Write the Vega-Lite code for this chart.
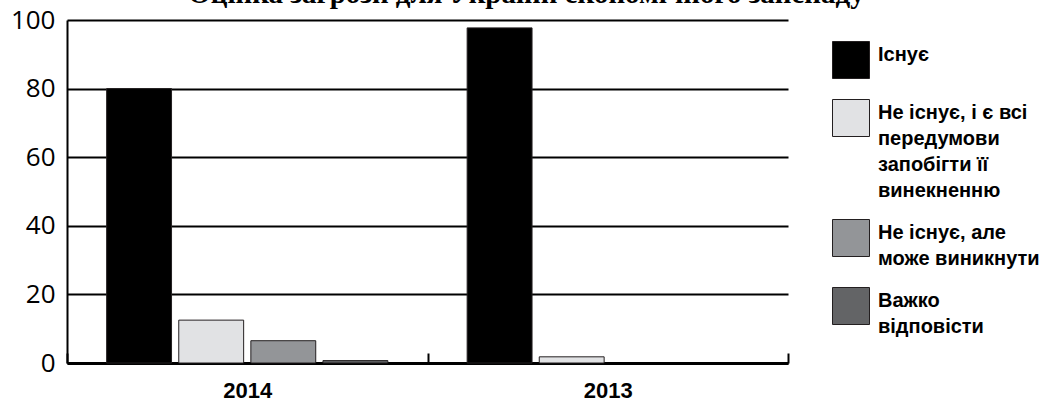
{
  "$schema": "https://vega.github.io/schema/vega-lite/v6.json",
  "autosize": "none",
  "width": 721,
  "height": 343,
  "padding": {"left": 67, "top": 20, "right": 251, "bottom": 37},
  "background": "white",
  "title": {
    "text": "Оцінка загрози для України економічного занепаду",
    "font": "Liberation Serif",
    "fontWeight": "bold",
    "fontSize": 29,
    "color": "#000000",
    "anchor": "middle",
    "frame": "group",
    "dx": 99,
    "baseline": "alphabetic",
    "offset": 0,
    "dy": 25
  },
  "data": {
    "values": [
      {"year": "2014", "answer": "Існує", "value": 80},
      {"year": "2014", "answer": "Не існує, і є всі передумови запобігти її винекненню", "value": 12.5},
      {"year": "2014", "answer": "Не існує, але може виникнути", "value": 6.5},
      {"year": "2014", "answer": "Важко відповісти", "value": 0.7},
      {"year": "2013", "answer": "Існує", "value": 97.7},
      {"year": "2013", "answer": "Не існує, і є всі передумови запобігти її винекненню", "value": 1.8}
    ]
  },
  "mark": {"type": "bar", "stroke": "#231f20", "strokeWidth": 1},
  "encoding": {
    "x": {
      "field": "year",
      "type": "nominal",
      "sort": ["2014", "2013"],
      "scale": {"paddingInner": 0, "paddingOuter": 0},
      "axis": {
        "title": null,
        "labelAngle": 0,
        "labelFont": "Liberation Sans",
        "labelFontWeight": "bold",
        "labelFontSize": 22,
        "labelColor": "#000000",
        "labelPadding": 27,
        "domainColor": "#000000",
        "domainWidth": 3,
        "ticks": true,
        "tickBand": "extent",
        "tickSize": -10,
        "tickColor": "#000000",
        "tickWidth": 2,
        "grid": false
      }
    },
    "xOffset": {
      "field": "answer",
      "type": "nominal",
      "scale": {
        "domain": ["Існує", "Не існує, і є всі передумови запобігти її винекненню", "Не існує, але може виникнути", "Важко відповісти"],
        "paddingInner": 0.1,
        "paddingOuter": 0.55
      }
    },
    "y": {
      "field": "value",
      "type": "quantitative",
      "scale": {"domain": [0, 100], "nice": false},
      "axis": {
        "title": null,
        "values": [0, 20, 40, 60, 80, 100],
        "labelFont": "Open Sans",
        "labelFontSize": 26,
        "labelColor": "#000000",
        "labelPadding": 12,
        "ticks": false,
        "domain": true,
        "domainColor": "#000000",
        "domainWidth": 2,
        "grid": true,
        "gridColor": "#000000",
        "gridWidth": 2,
        "gridOpacity": 1
      }
    },
    "color": {
      "field": "answer",
      "type": "nominal",
      "scale": {
        "domain": ["Існує", "Не існує, і є всі передумови запобігти її винекненню", "Не існує, але може виникнути", "Важко відповісти"],
        "range": ["#000000", "#e1e2e4", "#939598", "#636466"]
      },
      "legend": {
        "title": null,
        "orient": "none",
        "legendX": 765,
        "legendY": 21,
        "symbolType": "square",
        "symbolSize": 1369,
        "symbolStrokeColor": "#231f20",
        "symbolStrokeWidth": 1,
        "symbolOpacity": 1,
        "labelFont": "Liberation Sans",
        "labelFontWeight": "bold",
        "labelFontSize": 20,
        "labelColor": "#000000",
        "labelLimit": 300,
        "labelOffset": 8,
        "labelBaseline": "top",
        "rowPadding": 16,
        "labelExpr": "datum.label == 'Не існує, і є всі передумови запобігти її винекненню' ? ['Не існує, і є всі', 'передумови', 'запобігти її', 'винекненню'] : datum.label == 'Не існує, але може виникнути' ? ['Не існує, але', 'може виникнути'] : datum.label == 'Важко відповісти' ? ['Важко', 'відповісти'] : datum.label",
        "encode": {
          "labels": {"update": {"lineHeight": {"value": 26}, "dy": {"value": -15}}}
        }
      }
    }
  },
  "config": {"view": {"stroke": null}}
}
